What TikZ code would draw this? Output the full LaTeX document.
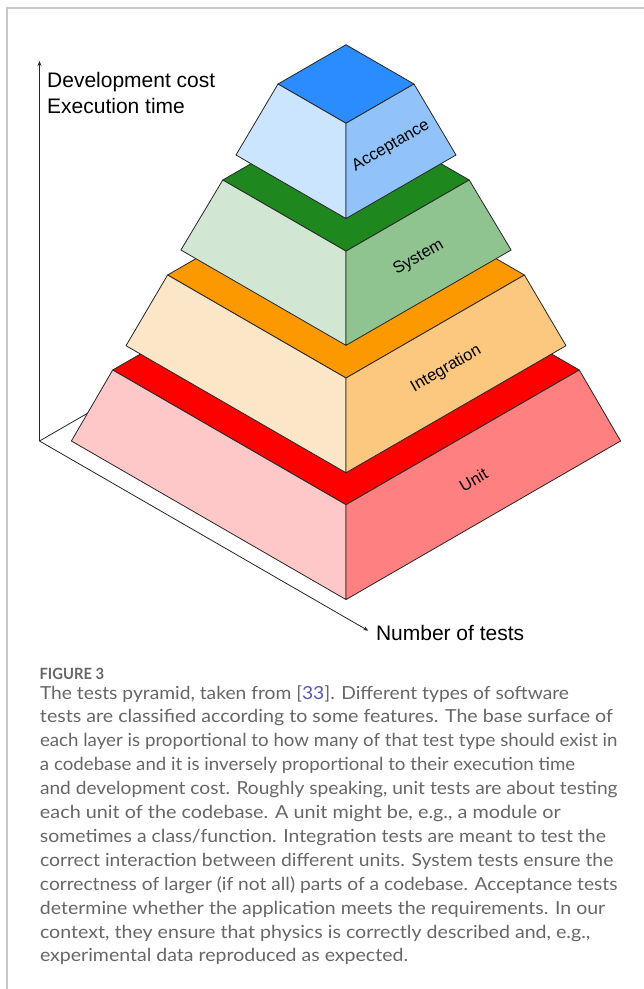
\documentclass[tikz,border=0pt]{standalone}
\usepackage{fontspec}
\usepackage{graphicx}
\setmainfont{Liberation Sans}
\newfontfamily\capfont{Lato}
\usetikzlibrary{arrows.meta}

\definecolor{accT}{HTML}{2A8CFF}
\definecolor{accL}{HTML}{CCE5FF}
\definecolor{accR}{HTML}{91C3FA}
\definecolor{sysT}{HTML}{1E881E}
\definecolor{sysL}{HTML}{D1E7D3}
\definecolor{sysR}{HTML}{8FC491}
\definecolor{intT}{HTML}{FC9800}
\definecolor{intL}{HTML}{FCE6C8}
\definecolor{intR}{HTML}{FCC880}
\definecolor{uniT}{HTML}{FF0000}
\definecolor{uniL}{HTML}{FFC8C8}
\definecolor{uniR}{HTML}{FF8080}
\definecolor{framec}{HTML}{C8C8C8}
\definecolor{capgray}{HTML}{676767}
\definecolor{linkc}{HTML}{5656B8}

\newcommand\fitline[2]{\setbox0=\hbox{#2}\pgfmathsetmacro\fitsx{#1/\the\wd0}\scalebox{\fitsx}[1]{\box0}}

% #1 top half-width, #2 top side y, #3 bottom half-width, #4 bottom side y,
% #5 top colour, #6 left colour, #7 right colour, #8 node name, #9 label
\newcommand\pyrlayer[9]{%
  \pgfmathsetmacro\lft{#2+#1*0.5774}%
  \pgfmathsetmacro\lbk{#2-#1*0.5774}%
  \pgfmathsetmacro\lfb{#4+#3*0.5774}%
  \pgfmathsetmacro\lcx{346.5+(#1+#3)/4}%
  \pgfmathsetmacro\lcy{(\lft+#2+#4+\lfb)/4+1}%
  \draw[edge, fill=#5] (346,\lbk) -- (346-#1,#2) -- (346,\lft) -- (346+#1,#2) -- cycle;
  \draw[edge, fill=#6] (346-#1,#2) -- (346,\lft) -- (346,\lfb) -- (346-#3,#4) -- cycle;
  \draw[edge, fill=#7] (346+#1,#2) -- (346,\lft) -- (346,\lfb) -- (346+#3,#4) -- cycle;
  \node[lbl, rotate=30] (#8) at (\lcx,\lcy) {#9};
}

\begin{document}
\begin{tikzpicture}[x=1pt,y=-1pt,
  edge/.style={draw=black!85, line width=0.8pt, line join=round},
  axis/.style={draw=black!85, line width=0.8pt},
  tip/.style={-{Stealth[length=5pt,width=4pt]}},
  lbl/.style={font=\fontsize{16.5}{19}\selectfont, inner sep=0pt},
  axlab/.style={anchor=base west, inner sep=0pt, font=\fontsize{21}{26}\selectfont},
  capline/.style={anchor=base west, inner sep=0pt, font=\capfont\fontsize{18}{24}\selectfont, text=capgray}]

\useasboundingbox (0,0) rectangle (644,989);
\fill[white] (0,0) rectangle (644,989);
\draw[framec, line width=1.5pt] (644,8) -- (7,8) -- (7,989);

% axes
\coordinate (origin) at (39.5,441);
\coordinate (ytip) at (39.5,61);
\coordinate (xtip) at (368.3,630.7);
\coordinate (zend) at (200,348.4);
\draw[axis] (origin) -- (zend);
\draw[axis, tip] (origin) -- (ytip);
\draw[axis, tip] (origin) -- (xtip);

\node[axlab] (ylab1) at (47,87.3) {Development cost};
\node[axlab] (ylab2) at (47,113.3) {Execution time};
\node[axlab] (xlab) at (375.8,640) {Number of tests};

% pyramid, bottom to top
\pyrlayer{233.3}{370}{274.6}{441}{uniT}{uniL}{uniR}{unit}{Unit}
\pyrlayer{178.4}{275}{220}{345.7}{intT}{intL}{intR}{integration}{Integration}
\pyrlayer{123.2}{180}{165.1}{250}{sysT}{sysL}{sysR}{system}{System}
\pyrlayer{68}{84}{110}{155}{accT}{accL}{accR}{acceptance}{Acceptance}

% caption
\node[anchor=base west, inner sep=0pt, font=\capfont\bfseries\fontsize{15.5}{18}\selectfont, text=capgray] (figno) at (39.3,679.3) {\fitline{64.7}{FIGURE 3}};
\node[capline] (cap1) at (39.8,699) {\fitline{529}{The tests pyramid, taken from [\textcolor{linkc}{33}]. Different types of software}};
\node[capline] (cap2) at (39.8,722.9) {\fitline{572.9}{tests are classified according to some features. The base surface of}};
\node[capline] (cap3) at (39.8,746.8) {\fitline{577.5}{each layer is proportional to how many of that test type should exist in}};
\node[capline] (cap4) at (39.8,770.7) {\fitline{535.2}{a codebase and it is inversely proportional to their execution time}};
\node[capline] (cap5) at (39.8,794.6) {\fitline{577.5}{and development cost. Roughly speaking, unit tests are about testing}};
\node[capline] (cap6) at (39.8,818.5) {\fitline{520.8}{each unit of the codebase. A unit might be, e.g., a module or}};
\node[capline] (cap7) at (39.8,842.4) {\fitline{565.9}{sometimes a class/function. Integration tests are meant to test the}};
\node[capline] (cap8) at (39.8,866.3) {\fitline{573.3}{correct interaction between different units. System tests ensure the}};
\node[capline] (cap9) at (39.8,890.2) {\fitline{577.5}{correctness of larger (if not all) parts of a codebase. Acceptance tests}};
\node[capline] (cap10) at (39.8,914.1) {\fitline{565.2}{determine whether the application meets the requirements. In our}};
\node[capline] (cap11) at (39.8,938) {\fitline{550.2}{context, they ensure that physics is correctly described and, e.g.,}};
\node[capline] (cap12) at (39.8,961.9) {\fitline{368}{experimental data reproduced as expected.}};
\end{tikzpicture}
\end{document}
